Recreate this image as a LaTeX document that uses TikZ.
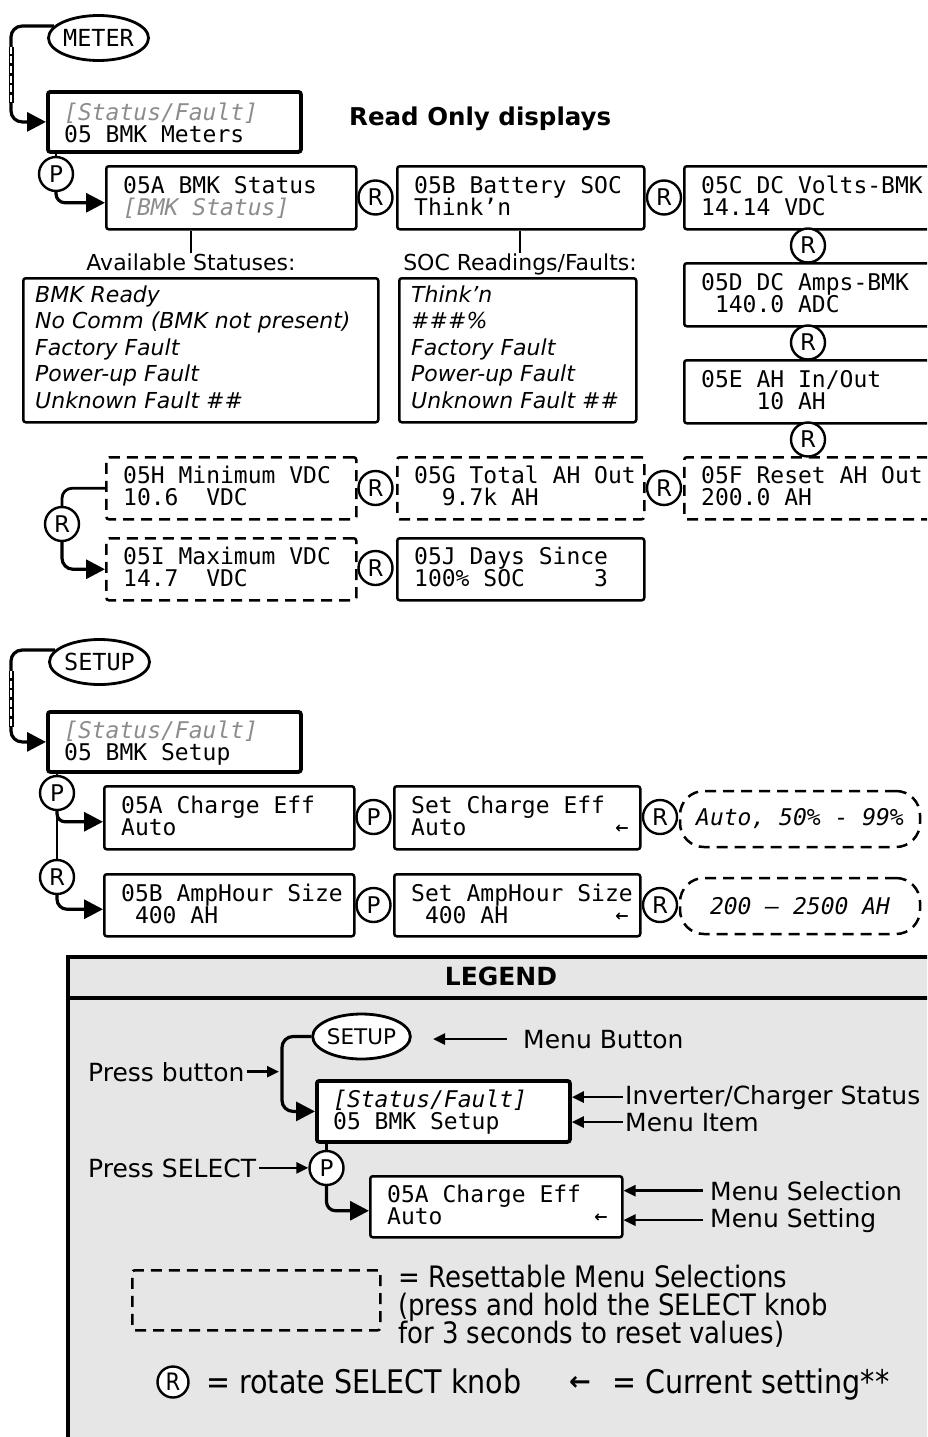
\documentclass[tikz,border=0pt]{standalone}
\usepackage{fontspec}
\setmainfont{DejaVu Sans}
\newfontfamily\monof{DejaVu Sans Mono}
\newfontfamily\condf{DejaVu Sans}[FakeStretch=0.88]
\usetikzlibrary{arrows.meta,shapes.geometric,calc}
\definecolor{grytxt}{HTML}{8C8C8C}
\definecolor{legbg}{HTML}{E6E6E6}
\tikzset{
  box/.style={draw, line width=2.5pt, rounded corners=2.5pt, inner sep=0pt, anchor=north west},
  tbox/.style={box, line width=3.8pt},
  dbox/.style={box, dash pattern=on 11pt off 7pt},
  knob/.style={draw, circle, line width=2.4pt, minimum size=34pt, inner sep=0pt, fill=white, font=\fontsize{23}{23}\selectfont},
  btn/.style={draw, ellipse, line width=2.8pt, inner sep=0pt, minimum width=83pt, minimum height=45pt, fill=white, font=\monof\fontsize{23.5}{23.5}\selectfont},
  mono/.style={inner sep=0pt, anchor=base west, font=\monof\fontsize{23}{23}\selectfont},
  pill/.style={draw, line width=2.5pt, dash pattern=on 11pt off 7pt, rounded corners=24pt, inner sep=0pt, minimum width=240pt, minimum height=56pt, font=\monof\itshape\fontsize{23}{23}\selectfont},
  lbl/.style={inner sep=0pt, font=\fontsize{22}{22}\selectfont},
  itl/.style={inner sep=0pt, anchor=base west, font=\itshape\fontsize{22}{22}\selectfont},
  leg/.style={inner sep=0pt, anchor=base west, font=\fontsize{25}{25}\selectfont},
  cnd/.style={inner sep=0pt, anchor=base west, font=\condf\fontsize{29.5}{29.5}\selectfont},
  cndb/.style={cnd, font=\condf\fontsize{32.5}{32.5}\selectfont},
  wire/.style={line width=2.8pt},
  conn/.style={line width=3.2pt, rounded corners=11pt, -{Triangle[length=19pt,width=19pt]}},
  larr/.style={line width=2.6pt, -{Triangle[length=12pt,width=11pt]}},
  cur/.style={inner sep=0pt, font=\bfseries\fontsize{16}{16}\selectfont},
  ladder/.style={white, line width=1.6pt, dash pattern=on 7pt off 2.5pt},
}
\newcommand\menubox[9]{%
  \node[#2, minimum width=#5pt, minimum height=#6pt] (#1) at (#3,#4) {};
  \node[mono] (#1a) at ($(#1.north west)+(18,#9)$) {#7};
  \node[mono] (#1b) at ($(#1.north west)+(18,#9+22)$) {#8};
}
\begin{document}
\begin{tikzpicture}[x=1pt,y=-1pt]
\useasboundingbox (0,0) rectangle (927,1437);
\clip (0,0) rectangle (927,1437);

% ---------------- METER section
\node[btn] (meter) at (98.5,38) {METER};
\menubox{meters}{tbox}{46}{90}{253}{60}{{\color{grytxt}\itshape [Status/Fault]}}{05 BMK Meters}{30}
\node[inner sep=0pt, anchor=base west, font=\bfseries\fontsize{24.5}{24.5}\selectfont] (rod) at (349,125) {Read Only displays};

\menubox{a5}{box}{105}{165}{250}{63}{05A BMK Status}{{\color{grytxt}\itshape [BMK Status]}}{28}
\menubox{b5}{box}{396}{165}{247}{63}{05B Battery SOC}{Think’n}{28}
\menubox{c5}{box}{683}{165}{300}{63}{05C DC Volts-BMK}{14.14 VDC}{28}
\menubox{d5}{box}{683}{262}{300}{63}{05D DC Amps-BMK}{\hphantom{0}140.0 ADC}{28}
\menubox{e5}{box}{683}{359}{300}{63}{05E AH In/Out}{\hphantom{0000}10 AH}{28}
\menubox{f5}{dbox}{683}{456}{300}{62}{05F Reset AH Out}{200.0 AH}{27}
\menubox{g5}{dbox}{396}{456}{247}{62}{05G Total AH Out}{\hphantom{00}9.7k AH}{27}
\menubox{h5}{dbox}{105}{456}{250}{62}{05H Minimum VDC}{10.6\hphantom{0} VDC}{27}
\menubox{i5}{dbox}{105}{537}{250}{62}{05I Maximum VDC}{14.7\hphantom{0} VDC}{27}
\menubox{j5}{box}{396}{537}{247}{62}{05J Days Since}{100\% SOC\hphantom{0000} 3}{27}

\node[knob] (p1) at (56,174) {P};
\node[knob] (r1) at (375.5,197.5) {R};
\node[knob] (r2) at (664,197.5) {R};
\node[knob] (r3) at (808,245.5) {R};
\node[knob] (r4) at (808,342.5) {R};
\node[knob] (r5) at (808,439.5) {R};
\node[knob] (r6) at (375.5,488) {R};
\node[knob] (r7) at (664,488) {R};
\node[knob] (r8) at (62,524) {R};
\node[knob] (r9) at (375.5,568) {R};

\node[lbl, anchor=base] (avail) at (191,270) {Available Statuses:};
\node[box, minimum width=355pt, minimum height=144pt] (stbox) at (22,277) {};
\foreach \t [count=\i from 0] in {BMK Ready, No Comm (BMK not present), Factory Fault, Power-up Fault, Unknown Fault \#\#}
  \node[itl] (st\i) at (35,302+26.6*\i) {\t};
\node[lbl, anchor=base] (socl) at (520,270) {SOC Readings/Faults:};
\node[box, minimum width=237pt, minimum height=144pt] (socbox) at (398,277) {};
\foreach \t [count=\i from 0] in {Think’n, \#\#\#\%, Factory Fault, Power-up Fault, Unknown Fault \#\#}
  \node[itl] (so\i) at (411,302+26.6*\i) {\t};

\coordinate (mbend) at (11,80);
\coordinate (mv1) at (11,47);
\coordinate (mv2) at (11,103);
\draw[conn] (meter.165) -| (mbend) |- (meters.west);
\draw[line width=5pt] (mv1) -- (mv2);
\draw[ladder] (mv1) -- (mv2);
\draw[wire] (meters.south -| p1) -- (p1);
\draw[conn, rounded corners=9pt] (p1.south) |- ([yshift=-5pt]a5.west);
\draw[line width=2.2pt] (a5.south -| avail.north) -- (avail.north);
\draw[line width=2.2pt] (b5.south -| socl.north) -- (socl.north);
\draw[wire, rounded corners=10pt] (h5.west) -| (r8.north);
\draw[conn] (r8.south) |- (i5.west);

% ---------------- SETUP section
\node[btn] (setup) at (99.5,662) {SETUP};
\menubox{bsetup}{tbox}{46}{710}{253}{60}{{\color{grytxt}\itshape [Status/Fault]}}{05 BMK Setup}{28}
\node[knob] (p2) at (57,793) {P};
\menubox{ach}{box}{103}{785}{250}{63}{05A Charge Eff}{Auto}{28}
\node[knob] (r10) at (57,877) {R};
\menubox{ahs}{box}{103}{873}{250}{62}{05B AmpHour Size}{\hphantom{0}400 AH}{28}
\node[knob] (p3) at (373.5,817) {P};
\menubox{sch}{box}{393}{785}{246}{63}{Set Charge Eff}{Auto}{28}
\node[cur] (schc) at (622,829) {←};
\node[knob] (p4) at (373.5,905) {P};
\menubox{sah}{box}{393}{873}{246}{62}{Set AmpHour Size}{\hphantom{0}400 AH}{28}
\node[cur] (sahc) at (622,917) {←};
\node[knob] (r11) at (660,817) {R};
\node[pill] (pl1) at (800,819) {Auto, 50\% - 99\%};
\node[knob] (r12) at (660,905) {R};
\node[pill] (pl2) at (800,906) {200 – 2500 AH};

\coordinate (sbend) at (11,700);
\coordinate (sv1) at (11,671);
\coordinate (sv2) at (11,727);
\draw[conn] (setup.165) -| (sbend) |- (bsetup.west);
\draw[line width=5pt] (sv1) -- (sv2);
\draw[ladder] (sv1) -- (sv2);
\draw[wire] (bsetup.south -| p2) -- (p2);
\draw[conn, rounded corners=8pt] (p2.south) |- ([yshift=-4pt]ach.west);
\draw[wire] (p2.south) -- (r10.north);
\draw[conn, rounded corners=10pt] (r10.south) |- ([yshift=-4pt]ahs.west);

% ---------------- LEGEND
\node[draw, fill=legbg, line width=3.5pt, anchor=north west, inner sep=0pt, minimum width=930pt, minimum height=530pt] (legend) at (66,955) {};
\coordinate (sepL) at (66,998);
\coordinate (sepR) at (1000,998);
\draw[line width=3.8pt] (sepL) -- (sepR);
\node[inner sep=0pt, anchor=base, font=\bfseries\fontsize{25}{25}\selectfont] (legt) at (501,985) {LEGEND};

\node[btn, minimum width=95pt, font=\fontsize{21.5}{21.5}\selectfont] (lsetup) at (361.5,1036.5) {SETUP};
\menubox{lbox}{tbox, fill=white}{315}{1079}{253}{61}{{\itshape [Status/Fault]}}{05 BMK Setup}{28}
\node[knob] (lp) at (326.5,1168) {P};
\menubox{lfa}{box, fill=white}{369}{1175}{252}{61}{05A Charge Eff}{Auto}{27}
\node[cur] (lfac) at (601,1218) {←};

\coordinate (lbend) at (282,1075);
\draw[conn] (lsetup.west) -| (lbend) |- (lbox.west);
\draw[wire] (lbox.south -| lp) -- (lp);
\draw[conn, rounded corners=9pt] (lp.south) |- ([yshift=-4pt]lfa.west);

\node[leg] (mbtn) at (523,1048) {Menu Button};
\coordinate (mbtip) at (433,1040);
\draw[larr, shorten <=16pt] (mbtn.west) -- (mbtn.west -| mbtip);
\node[leg] (pbtn) at (88,1081) {Press button};
\coordinate (pbtip) at (279,1072);
\draw[larr, shorten <=2pt] (pbtn.east) -- (pbtn.east -| pbtip);
\node[leg] (invl) at (625,1104) {Inverter/Charger Status};
\draw[larr, shorten <=2pt] (invl.west) -- (invl.west -| lbox.east);
\node[leg] (iteml) at (625,1131) {Menu Item};
\draw[larr, shorten <=2pt] (iteml.west) -- (iteml.west -| lbox.east);
\node[leg] (psel) at (88,1177) {Press SELECT};
\draw[larr, shorten <=3pt] (psel.east) -- (psel.east -| lp.west);
\node[leg] (msel) at (710,1200) {Menu Selection};
\draw[larr, shorten <=7pt] (msel.west) -- (msel.west -| lfa.east);
\node[leg] (mset) at (710,1227) {Menu Setting};
\draw[larr, shorten <=7pt] (mset.west) -- (mset.west -| lfa.east);

\node[dbox, minimum width=248pt, minimum height=60pt] (ldash) at (131,1269) {};
\node[cnd] (res1) at (398,1287) {= Resettable Menu Selections};
\node[cnd] (res2) at (398,1315) {(press and hold the SELECT knob};
\node[cnd] (res3) at (398,1343) {for 3 seconds to reset values)};
\node[knob, minimum size=31pt, font=\condf\fontsize{24}{24}\selectfont] (lr) at (173,1382) {R};
\node[cndb] (rot) at (206,1393) {= rotate SELECT knob};
\node[inner sep=0pt, font=\bfseries\fontsize{26}{26}\selectfont] (curarr) at (580,1383) {←};
\node[cndb] (curl) at (612,1393) {= Current setting**};
\end{tikzpicture}
\end{document}
